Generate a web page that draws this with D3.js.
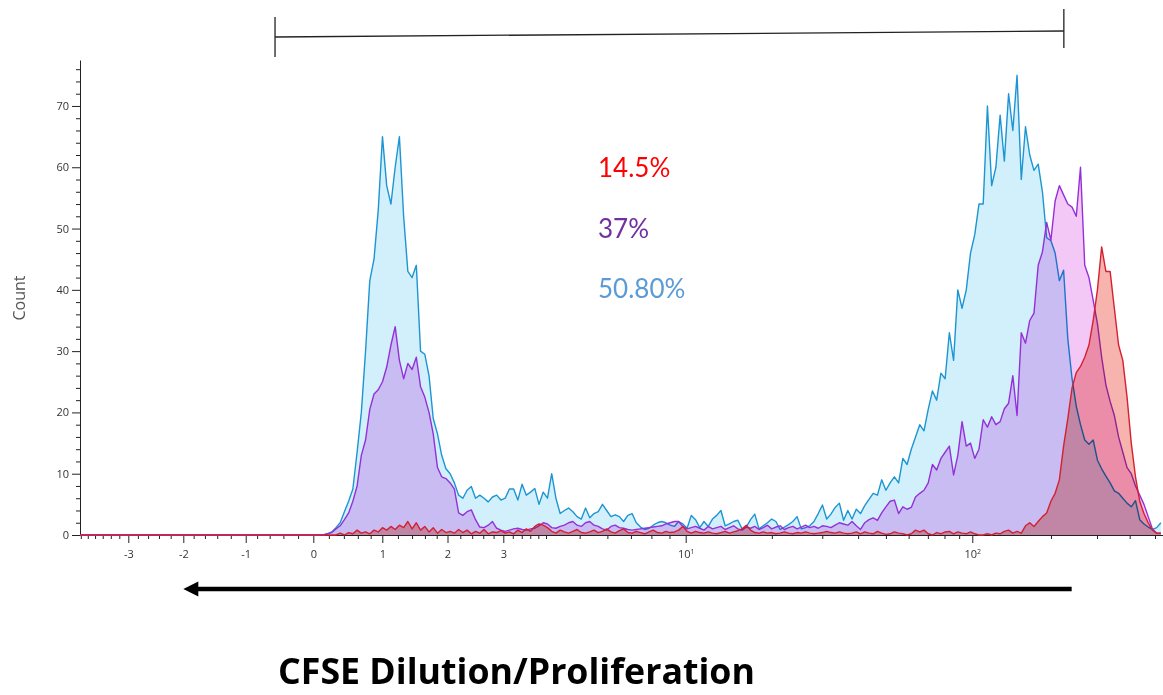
<!DOCTYPE html>
<html><head><meta charset="utf-8">
<script src="https://cdn.jsdelivr.net/npm/d3@7"></script>
<style>
html,body{margin:0;padding:0;background:#fff;}
svg{display:block;}
</style></head>
<body><svg id="chart" width="1163" height="695"></svg>
<script>
// ---------------- DATA ----------------
const binCount = 256;          // display channels of the histogram
const startBin = 56;           // first listed channel (all channels before it are 0)
const blueCounts = [
0,0,0.2,0.5,1.2,2,3.8,5.5,7.5,13.5,
20,30,41.5,45,53,65,57,54,60,65,
52,43,42,44,30,29.5,26,19,16.5,13,
10.8,10,8.5,6.5,6,7.3,7.9,6,6.5,6,
5.4,6.2,6.5,5.7,6,7.5,7.5,5.7,8.3,6.5,
7,7.6,5,7,6,10,6,3.5,4,4.4,
3.8,3,2.6,4.4,2.8,3.5,3.8,5,4,3,
3.3,3,2.2,3.2,3.5,2,1.3,0.9,1.1,1.6,
2,2.2,2,1.6,1.4,2.2,1.8,1.1,3.2,2.5,
1.2,2.2,1.4,2.6,3.2,4,1.5,1.8,2.2,2.4,
1,1.3,2.5,3.4,1,1.5,2,2.6,2.2,0.9,
1.3,1.7,2.2,3,1,1.2,1.5,2.2,3.5,4.9,
2.6,3.4,4.5,5.2,2.4,4,2.6,4.2,3.5,4.8,
5.8,6.8,6.5,9,7.3,8.5,9.5,8.5,12.5,11.5,
14,16,18,17,20.5,23.5,22,26.4,25.5,33,
28.5,40,37,40,46,49,54,54,70,57,
60,68.5,61,72,66,75,58,66.6,62,59.5,
60.5,56,48.5,48,46,41.5,43.2,32,25.5,21,
18,15.5,14.8,15.5,12.2,10.8,9.6,8.5,7.2,6.8,
6,5.2,4.6,5.6,2.5,1.8,1.3,0.9,1.2,2
];
const purpleCounts = [
0,0,0.2,0.4,1,1.5,2.5,3.6,5.5,8,
13,15.5,20.5,23,23.7,25,27.4,31,34,28.5,
25.5,28,27,29,24.2,22.5,20,16.5,11,9.5,
9.2,8.5,7.5,3.6,3.2,3.8,4.1,2.5,1.3,1.2,
1.6,2.2,1.1,0.8,0.6,0.8,1,1.1,0.9,0.8,
1,1.1,1.5,2,1.8,1.2,1.1,1.4,1.6,2,
2.2,1.6,1.4,2,2.2,1.6,1.4,1,0.8,1.4,
1.6,1.2,1.1,0.9,0.8,0.9,1,1.1,1.2,1.3,
1.4,1.5,1.8,2,2.2,2.2,1.4,1,1.2,1.4,
1.1,0.8,1.4,1,1.2,1.4,0.9,1.2,1.5,1,
0.8,1.3,1.1,1.4,0.9,1.2,1.6,1,1.3,1.5,
0.9,1.2,1.4,1,1.3,1.6,1.2,1.4,1.1,1.5,
1.4,1.2,1.6,2,1.8,1.6,2.2,1.5,0.9,2,
2.5,2.8,2.4,3.6,4.6,5.5,5.7,3.5,4.6,4.2,
4.5,6.2,6.8,7.3,8.5,11.5,10.6,12.5,13.5,14.5,
9.8,13,18.5,14.5,15,12.5,14,18.8,17.6,19.3,
18,18.5,20.6,21.5,26,19.5,33,31.3,35,36.2,
44,46.2,51,48.1,54.5,57,55.5,54,53.5,52,
60,44,42,38.3,34.5,29,24.5,21.8,19.5,16,
13.5,11,10,8,6.5,5,3,1,0.3,0.3
];
const redCounts = [
0,0,0,0,0,0.3,0,0.4,0.2,0.8,
0.3,0.5,0.2,0.8,0.5,1.2,0.8,1.4,0.9,1.6,
1.2,2.2,1,2,0.8,1.4,0.5,1.2,0.3,0.9,
0.4,0.6,0.3,0.9,0.4,0.8,0.2,0.6,0.3,0.9,
0.2,0.5,0.4,0.7,0.3,0.5,0.2,0.8,0.4,1,
0.6,1.4,1.8,1.6,1.2,0.6,0.3,0.8,0.5,0.3,
0.6,0.9,0.4,0.3,0.5,0.8,0.4,0.6,1,0.5,
0.3,0.7,1,0.4,0.3,0.6,0.4,0.2,0.5,0.8,
0.4,0.3,0.6,0.4,0.5,0.8,1.4,0.6,0.3,0.6,
0.4,0.3,0.5,0.3,0.2,0.4,0.6,0.3,0.5,0.7,
1,1.6,0.8,0.4,0.3,0.5,0.3,0.4,0.2,0.3,
0.5,0.3,0.2,0.4,0.3,0.5,0.3,0.2,0.3,0.4,
0.6,0.4,0.3,0.5,0.3,0.2,0.3,0.5,0.2,0.5,
0.3,0.2,0.6,0.3,0.1,0.2,0.5,0.3,0.2,0,
0.2,0.8,0.5,0.8,0.2,0,0.4,0.2,0.5,0.6,
0.2,0.5,0.3,0.2,0.5,0.2,0,0,0.2,0,
0.3,0.2,0.6,0.8,0.3,0.6,0.3,1.5,2,1.4,
2.2,3,3.6,5.5,6.8,9,14.5,19,24,26.5,
27.5,29,31,35,40,47,43,43,37,31,
28.5,22.5,15,9.5,5.5,3.5,2,0.8,0.3,0.3
];
const seriesNames = ["blue", "purple", "red"];
const percentLabels = ["14.5%", "37%", "50.80%"];
const xTickValues = [-3, -2, -1, 0, 1, 2, 3, 10, 100];
const xTickLabels = ["-3", "-2", "-1", "0", "1", "2", "3", "10|1", "10|2"];
const yTickValues = [0, 10, 20, 30, 40, 50, 60, 70];
const yMax = 77.5;
const gateRange = [-0.52, 224];
const arrowRange = [240, -2];
const yTitle = "Count";
const xTitle = "CFSE Dilution/Proliferation";

// ---------------- LAYOUT / STYLE ----------------
const plot = {left: 80, right: 1163, top: 60, bottom: 535};
const styles = {
  blue:   {line: "#1d95d2", fill: "#d2f0fb"},
  purple: {line: "#9530d8", fill: "#f3c8f7"},
  red:    {line: "#d42030", fill: "#f7b4ae"}
};
const labelColors = ["#ff0000", "#7030a0", "#5b9bd5"];

const svg = d3.select("#chart");
const x = d3.scaleLinear().domain([0, binCount]).range([plot.left, plot.right]);
const y = d3.scaleLinear().domain([0, yMax]).range([plot.bottom, plot.top]);

// biexponential-like display transform: value -> display channel
const anchorValues = [-3, -2, -1, 0, 1, 2, 3, 10, 100, 500];
const anchorBins = [11.42, 24.42, 39.17, 55.15, 71.46, 86.87, 100.06, 143.17, 210.92, 254.11];
const toBin = d3.scaleLinear().domain(anchorValues.map(Math.asinh)).range(anchorBins);
const binOf = v => toBin(Math.asinh(v));

// ---------- axes ----------
const axisFont = "'Open Sans', 'DejaVu Sans', sans-serif";
// Y axis
const yMinor = d3.range(0, yMax, 2).filter(v => v % 10 !== 0);
const yAxisG = svg.append("g").attr("transform", `translate(${plot.left},0)`);
yAxisG.call(d3.axisLeft(y).tickValues(yMinor).tickSize(4).tickFormat("").tickSizeOuter(0));
yAxisG.call(g => g.select(".domain").remove());
const yAxisMajor = svg.append("g").attr("transform", `translate(${plot.left},0)`)
  .call(d3.axisLeft(y).tickValues(yTickValues).tickSize(8).tickPadding(3).tickSizeOuter(0));
yAxisMajor.selectAll("text").attr("font-family", axisFont).attr("font-size", 11).attr("fill", "#333");

// X axis
let minorVals = [];
d3.range(-22, 21).forEach(k => { if (k % 5 !== 0 || Math.abs(k) > 15) minorVals.push(k / 5); });
minorVals = minorVals.concat([5, 6, 7, 8, 9, 20, 30, 40, 50, 60, 70, 80, 90, 200, 300, 400, 500]);
const minorBins = minorVals.map(binOf).filter(b => b >= 0 && b <= binCount);
svg.append("g").attr("transform", `translate(0,${plot.bottom})`)
  .call(d3.axisBottom(x).tickValues(minorBins).tickSize(4).tickFormat("").tickSizeOuter(0));
const xAxisMajor = svg.append("g").attr("transform", `translate(0,${plot.bottom})`)
  .call(d3.axisBottom(x).tickValues(xTickValues.map(binOf)).tickSize(8).tickPadding(7)
    .tickFormat(() => "").tickSizeOuter(0));
xAxisMajor.select(".domain").remove();
xAxisMajor.selectAll(".tick text").each(function(d, i) {
  const t = d3.select(this).attr("font-family", axisFont).attr("font-size", 11).attr("fill", "#333");
  const parts = xTickLabels[i].split("|");
  t.text(null);
  t.append("tspan").text(parts[0]);
  if (parts[1]) t.append("tspan").attr("font-size", 7).attr("dy", "-0.5em").text(parts[1]);
});
svg.selectAll(".domain, .tick line").attr("stroke", "#222").attr("stroke-width", 1);

// ---------- series ----------
const seriesData = {blue: blueCounts, purple: purpleCounts, red: redCounts};
const area = d3.area().x(d => x(d.bin)).y0(y(0)).y1(d => y(d.v));
const line = d3.line().x(d => x(d.bin)).y(d => y(d.v));
seriesNames.forEach(name => {
  const pts = [{bin: 0, v: 0}].concat(seriesData[name].map((v, i) => ({bin: startBin + i + 0.5, v})));
  svg.append("path").datum(pts).attr("d", area)
    .attr("fill", styles[name].fill).style("mix-blend-mode", "multiply");
  svg.append("path").datum(pts).attr("d", line)
    .attr("fill", "none").attr("stroke", styles[name].line).attr("stroke-width", 1.4)
    .attr("stroke-linejoin", "round");
});

// ---------- y title ----------
svg.append("text").attr("transform", `translate(25,298) rotate(-90)`)
  .attr("text-anchor", "middle").attr("font-family", axisFont).attr("font-size", 16)
  .attr("fill", "#555").text(yTitle);

// ---------- gate marker ----------
const gx0 = x(binOf(gateRange[0])), gx1 = x(binOf(gateRange[1]));
const gate = svg.append("g").attr("stroke", "#222").attr("stroke-width", 1.3);
gate.append("line").attr("x1", gx0).attr("y1", 37).attr("x2", gx1).attr("y2", 31);
gate.append("line").attr("x1", gx0).attr("y1", 17).attr("x2", gx0).attr("y2", 57);
gate.append("line").attr("x1", gx1).attr("y1", 9).attr("x2", gx1).attr("y2", 48);

// ---------- percentages ----------
percentLabels.forEach((t, i) => {
  svg.append("text").attr("x", 598).attr("y", 177 + i * 60.5)
    .attr("font-family", "Lato, 'Open Sans', sans-serif").attr("font-size", 26)
    .attr("fill", labelColors[i]).text(t);
});

// ---------- arrow ----------
const ax0 = x(binOf(arrowRange[0])), ax1 = x(binOf(arrowRange[1]));
const ay = 589;
svg.append("line").attr("x1", ax0).attr("y1", ay).attr("x2", ax1 + 12).attr("y2", ay)
  .attr("stroke", "#000").attr("stroke-width", 4.5);
svg.append("path").attr("d", d3.line()([[ax1, ay], [ax1 + 15, ay - 7.5], [ax1 + 15, ay + 7.5]]) + "Z")
  .attr("fill", "#000");

// ---------- x title ----------
const title = svg.append("text").attr("x", 516.5).attr("y", 684).attr("text-anchor", "middle")
  .attr("font-family", "'Open Sans', sans-serif").attr("font-weight", 700).attr("font-size", 36)
  .attr("fill", "#000").text(xTitle);
const tw = title.node().getComputedTextLength();
title.attr("font-size", 36 * 477 / tw);
</script>
</body></html>
